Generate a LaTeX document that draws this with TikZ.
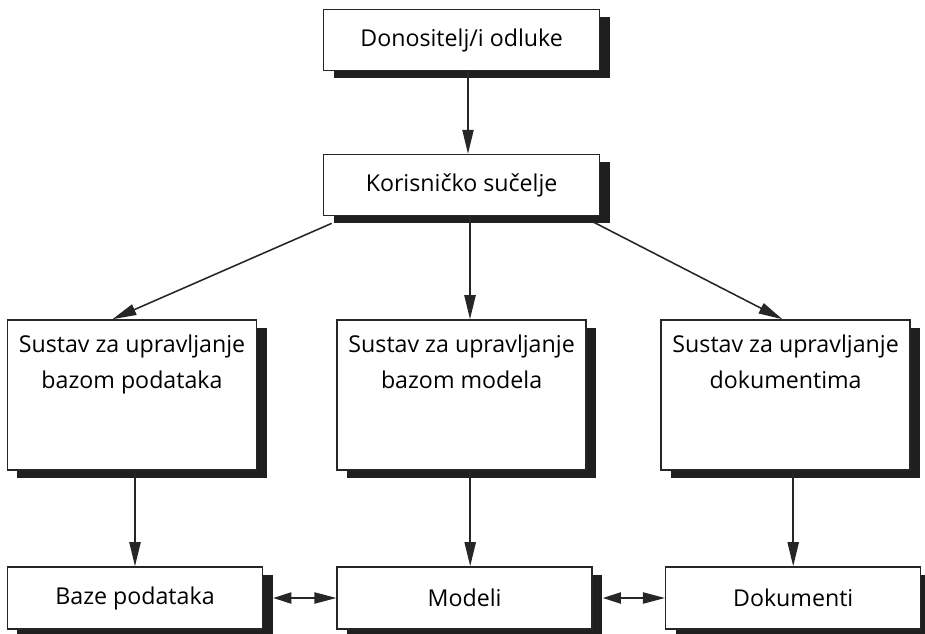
\documentclass[tikz,border=0pt]{standalone}
\usepackage{fontspec}
\setmainfont{Open Sans}
\usepackage{tikz}
\usetikzlibrary{arrows.meta, shadows, positioning}
\tikzstyle{box} = [rectangle, draw=black!85, line width=1.1pt, fill=white, text centered, font=\fontsize{16.5}{25.5}\selectfont, drop shadow={shadow xshift=0.25cm, shadow yshift=-0.19cm, fill=black!88, opacity=1}]
\tikzstyle{small} = [box, minimum width=6.9cm, minimum height=1.52cm]
\tikzstyle{big} = [box, minimum width=6.225cm, minimum height=3.75cm]
\tikzstyle{store} = [box, minimum width=6.375cm, minimum height=1.55cm]
\tikzstyle{inside} = [anchor=north, align=center, inner sep=0pt, yshift=-0.38cm, font=\fontsize{16.5}{25.5}\selectfont]
\tikzstyle{arrow} = [line width=1.1pt, draw=black!85, -{Triangle[length=6mm, width=2.8mm]}]
\tikzstyle{both} = [line width=1.1pt, draw=black!85, {Triangle[length=4.5mm, width=2.8mm]}-{Triangle[length=5.5mm, width=2.8mm]}]

\begin{document}
\begin{tikzpicture}[node distance=3.625cm]
\useasboundingbox (0,0) rectangle (23.125,-15.85);

\node (odluke) [small] at (11.54,-1.0) {Donositelj/i odluke};
\node (korisnik) [small, below of=odluke] {Korisničko sučelje};
\node (lsud) [big, below of=korisnik, node distance=5.25cm, xshift=-8.24cm, label={[inside]north:Sustav za upravljanje\\bazom podataka}] {};
\node (msud) [big, below of=korisnik, node distance=5.25cm, label={[inside]north:Sustav za upravljanje\\bazom modela}] {};
\node (rsud) [big, below of=korisnik, node distance=5.25cm, xshift=8.1cm, label={[inside]north:Sustav za upravljanje\\dokumentima}] {};
\node (baze) [store, below of=lsud, node distance=5.075cm, xshift=0.075cm] {Baze podataka};
\node (modeli) [store, below of=msud, node distance=5.075cm, xshift=0.075cm] {Modeli};
\node (dokumenti) [store, below of=rsud, node distance=5.075cm, xshift=0.19cm] {Dokumenti};

\draw [arrow] ([xshift=0.16cm]odluke.south) -- ([xshift=0.16cm]korisnik.north);
\draw [arrow] ([xshift=0.22cm, yshift=-0.18cm]korisnik.south west) -- ([xshift=-0.49cm]lsud.north);
\draw [arrow] ([xshift=0.21cm]korisnik.south) -- ([xshift=0.21cm]msud.north);
\draw [arrow] ([xshift=-0.17cm, yshift=-0.15cm]korisnik.south east) -- ([xshift=-0.08cm]rsud.north);
\draw [arrow] (lsud.south -| baze.north) -- (baze.north);
\draw [arrow] ([xshift=0.14cm]msud.south -| modeli.north) -- ([xshift=0.14cm]modeli.north);
\draw [arrow] (rsud.south -| dokumenti.north) -- (dokumenti.north);
\draw [both] ([xshift=0.25cm]baze.east) -- (modeli.west);
\draw [both] ([xshift=0.25cm]modeli.east) -- (dokumenti.west);

\end{tikzpicture}
\end{document}
